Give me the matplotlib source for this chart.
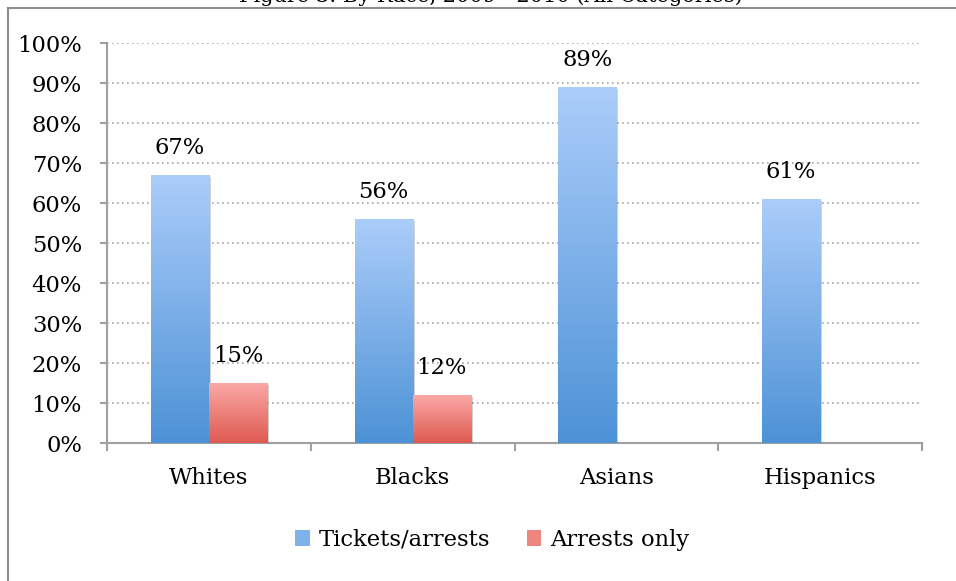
import matplotlib
matplotlib.use('Agg')
import matplotlib.pyplot as plt
import matplotlib.patheffects as pe
from matplotlib.lines import Line2D
from matplotlib.patches import Patch
import numpy as np

matplotlib.rc('font', **{'family': 'serif', 'serif': ['DejaVu Serif']})

# data
categories = ['Whites', 'Blacks', 'Asians', 'Hispanics']
series_names = ['Tickets/arrests', 'Arrests only']
tickets_arrests = [67, 56, 89, 61]
arrests_only = [15, 12, None, None]
yticks = list(range(0, 101, 10))
title = 'Figure 3: By Race, 2009 - 2010 (All Categories)'

# gradient colours (top, bottom)
blue = ('#abcdfa', '#4d92d6')
red = ('#fba8a6', '#de5a50')
grid_grey = '#a6a6a6'
axis_grey = '#a0a0a0'
fs = 16.3

fig = plt.figure(figsize=(9.56, 5.81), dpi=100)
ax = fig.add_axes([107/956, 138/581, 815/956, 400/581])

x = np.arange(len(categories))
w = 0.285


def grad_bars(xs, vals, cols):
    top = np.array(matplotlib.colors.to_rgb(cols[0]))
    bot = np.array(matplotlib.colors.to_rgb(cols[1]))
    for xi, v in zip(xs, vals):
        if v is None:
            continue
        b = ax.bar(xi, v, width=w, color=cols[1], zorder=3, linewidth=0,
                   path_effects=[pe.SimplePatchShadow(offset=(1.5, -1.5), shadow_rgbFace='k', alpha=0.18),
                                 pe.Normal()])[0]
        t = np.linspace(0, 1, 256)[:, None]
        img = top[None, None, :] * (1 - t[..., None]) + bot[None, None, :] * t[..., None]
        img = np.repeat(img, 2, axis=1)
        im = ax.imshow(img, extent=[xi - w/2, xi + w/2, 0, v], aspect='auto',
                       zorder=4, interpolation='bilinear', origin='upper')
        im.set_clip_path(b)
        ax.text(xi, v + 4, f'{v}%', ha='center', va='bottom', fontsize=fs, zorder=5)


grad_bars(x - w/2, tickets_arrests, blue)
grad_bars(x + w/2, arrests_only, red)

ax.set_xlim(-0.5, len(categories) - 0.5)
ax.set_ylim(0, 100)
ax.set_yticks(yticks)
ax.set_yticklabels([f'{v}%' for v in yticks], fontsize=fs)
ax.yaxis.grid(True, linestyle=(0, (1, 2)), color=grid_grey, linewidth=1.2, zorder=0)
ax.set_axisbelow(True)

# category boundaries as tick marks, labels in the middle
ax.set_xticks(np.arange(-0.5, len(categories), 1.0))
ax.set_xticklabels([])
ax.set_xticks(x, minor=True)
ax.set_xticklabels(categories, minor=True, fontsize=fs)
ax.tick_params(axis='x', which='major', length=6, color=axis_grey, width=1.5, direction='out')
ax.tick_params(axis='x', which='minor', length=0, pad=17)
ax.tick_params(axis='y', length=5, color=axis_grey, width=1.5, direction='out', pad=13)

for s in ['top', 'right']:
    ax.spines[s].set_visible(False)
for s in ['left', 'bottom']:
    ax.spines[s].set_color(axis_grey)
    ax.spines[s].set_linewidth(1.5)

handles = [Patch(facecolor='#7db2ea', edgecolor='none', label=series_names[0]),
           Patch(facecolor='#ee8680', edgecolor='none', label=series_names[1])]
fig.legend(handles=handles, loc='center', bbox_to_anchor=(0.515, 41/581), ncol=2,
           frameon=False, fontsize=fs, handlelength=0.65, handleheight=0.65,
           handletextpad=0.4, columnspacing=1.6)

# outer frame of the chart (left and top only visible)
fig.add_artist(Line2D([8/956, 8/956], [0, 1 - 8/581], color='#8c8c8c', linewidth=1.5))
fig.add_artist(Line2D([8/956, 1], [1 - 8/581, 1 - 8/581], color='#8c8c8c', linewidth=1.5))

# title mostly cut off at the top edge
fig.text(491/956, 1 - 2.5/581, title, ha='center', va='baseline', fontsize=15)

plt.savefig('out.png', dpi=100)
